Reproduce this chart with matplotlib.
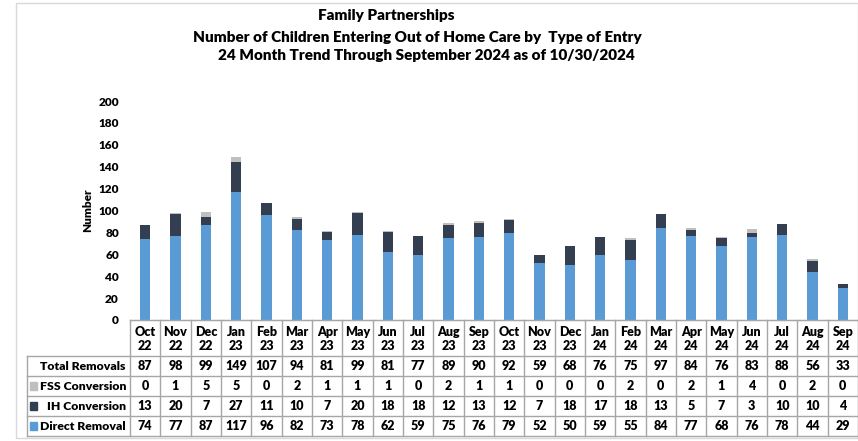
import matplotlib
matplotlib.use("Agg")
import matplotlib.pyplot as plt
from matplotlib.patches import Rectangle
from matplotlib.lines import Line2D
import matplotlib.transforms as mtransforms

months = ["Oct\n22", "Nov\n22", "Dec\n22", "Jan\n23", "Feb\n23", "Mar\n23", "Apr\n23", "May\n23",
          "Jun\n23", "Jul\n23", "Aug\n23", "Sep\n23", "Oct\n23", "Nov\n23", "Dec\n23", "Jan\n24",
          "Feb\n24", "Mar\n24", "Apr\n24", "May\n24", "Jun\n24", "Jul\n24", "Aug\n24", "Sep\n24"]
total = [87, 98, 99, 149, 107, 94, 81, 99, 81, 77, 89, 90, 92, 59, 68, 76, 75, 97, 84, 76, 83, 88, 56, 33]
fss = [0, 1, 5, 5, 0, 2, 1, 1, 1, 0, 2, 1, 1, 0, 0, 0, 2, 0, 2, 1, 4, 0, 2, 0]
ih = [13, 20, 7, 27, 11, 10, 7, 20, 18, 18, 12, 13, 12, 7, 18, 17, 18, 13, 5, 7, 3, 10, 10, 4]
direct = [74, 77, 87, 117, 96, 82, 73, 78, 62, 59, 75, 76, 79, 52, 50, 59, 55, 84, 77, 68, 76, 78, 44, 29]
yticks = [0, 20, 40, 60, 80, 100, 120, 140, 160, 180, 200]

c_direct = "#5B9BD5"
c_ih = "#333F50"
c_fss = "#BFBFBF"
grid_c = "#A6A6A6"

plt.rcParams['font.family'] = ['Lato', 'DejaVu Sans']
FW = 'heavy'

W, H = 858, 441
fig = plt.figure(figsize=(W / 100, H / 100), dpi=100)
ax_l, ax_r, ax_b, ax_t = 130, 858, 320, 101
ax = fig.add_axes([ax_l / W, 1 - ax_b / H, (ax_r - ax_l) / W, (ax_b - ax_t) / H])

x = list(range(len(months)))
bw = 0.34
ax.bar(x, direct, bw, color=c_direct, label="Direct Removal")
bot2 = [d for d in direct]
ax.bar(x, ih, bw, bottom=bot2, color=c_ih, label="IH Conversion")
bot3 = [d + i for d, i in zip(direct, ih)]
ax.bar(x, fss, bw, bottom=bot3, color=c_fss, label="FSS Conversion")

ax.set_xlim(-0.5, len(months) - 0.5)
ax.set_ylim(0, 200)
ax.set_yticks(yticks)
ax.set_yticklabels([str(v) for v in yticks], fontsize=8.5, fontweight=FW)
ax.tick_params(axis='y', length=0, pad=8)
ax.set_xticks([])
for s in ["top", "right", "left"]:
    ax.spines[s].set_visible(False)
ax.spines["bottom"].set_color(grid_c)
ax.set_ylabel("Number", fontsize=8.5, fontweight=FW, labelpad=4)

# Table
px = 1.0 / (ax_b - ax_t)
trans = mtransforms.blended_transform_factory(ax.transData, ax.transAxes)
rows_y = [320, 356, 376, 396, 416, 436]
def ya(py):
    return (ax_b - py) * px

lbl_left_px = 27
lbl_right_px = 130
fig_line_kw = dict(color=grid_c, lw=1.0)
for i, py in enumerate(rows_y):
    x0 = lbl_left_px if i >= 1 else lbl_right_px
    fig.add_artist(Line2D([x0 / W, ax_r / W], [1 - py / H, 1 - py / H], **fig_line_kw))
for k in range(len(months) + 1):
    xa = k - 0.5
    ax.plot([xa, xa], [ya(rows_y[0]), ya(rows_y[-1])], transform=trans, clip_on=False, **fig_line_kw)
fig.add_artist(Line2D([lbl_left_px / W, lbl_left_px / W], [1 - rows_y[1] / H, 1 - rows_y[-1] / H], **fig_line_kw))

for k, m in enumerate(months):
    ax.text(k, ya((rows_y[0] + rows_y[1]) / 2 + 1), m, transform=trans, ha='center', va='center',
            fontsize=9, fontweight=FW, linespacing=1.25)

row_labels = ["Total Removals", "FSS Conversion", "IH Conversion", "Direct Removal"]
row_vals = [total, fss, ih, direct]
row_cols = [None, c_fss, c_ih, c_direct]
for r, (lab, vals, col) in enumerate(zip(row_labels, row_vals, row_cols)):
    yc = (rows_y[r + 1] + rows_y[r + 2]) / 2
    fig.text(126 / W, 1 - yc / H, lab, ha='right', va='center', fontsize=8.8, fontweight=FW)
    if col is not None:
        fig.add_artist(Rectangle((30 / W, 1 - (yc + 4) / H), 7 / W, 8 / H, color=col,
                                 transform=fig.transFigure))
    for k, v in enumerate(vals):
        ax.text(k, ya(yc), str(v), transform=trans, ha='center', va='center',
                fontsize=9, fontweight=FW)

fig.text(386 / W, 1 - 15 / H, "Family Partnerships", ha='center', va='center', fontsize=11, fontweight=FW)
fig.text(417 / W, 1 - 37 / H, "Number of Children Entering Out of Home Care by  Type of Entry",
         ha='center', va='center', fontsize=11, fontweight=FW)
fig.text(426 / W, 1 - 56 / H, "24 Month Trend Through September 2024 as of 10/30/2024",
         ha='center', va='center', fontsize=11, fontweight=FW)

fig.add_artist(Rectangle((16 / W, 1 - 438 / H), (W - 16) / W, (438 - 3) / H, fill=False,
                         edgecolor="#D9D9D9", lw=1.0, transform=fig.transFigure))

fig.savefig("out.png", dpi=100)
